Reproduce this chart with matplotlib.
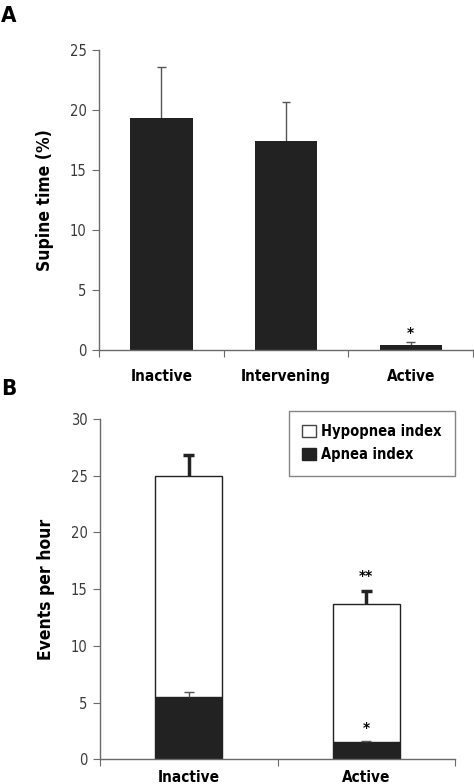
import numpy as np
import matplotlib; matplotlib.use("Agg")
import matplotlib.pyplot as plt
from matplotlib.patches import Patch

plt.rcParams.update({"font.family": ["DejaVu Sans"], "font.stretch": "condensed", "font.size": 10})

# panel A: supine time
cats_a = ["Inactive", "Intervening", "Active"]
supine = [19.3, 17.4, 0.45]
supine_err = [4.3, 3.3, 0.25]
star_a = {2: (1.3, "*")}

# panel B: events per hour (stacked)
cats_b = ["Inactive", "Active"]
apnea = [5.5, 1.5]
apnea_err = [0.4, 0.15]
total = [25.0, 13.7]
total_err = [1.8, 1.1]
stars_b = [(1, 16.0, "**"), (1, 2.6, "*")]

DARK = "#222222"; AX = "#6a6a6a"; TK = "#3a3a3a"
fig = plt.figure(figsize=(4.74, 7.84), dpi=100)

def style(ax, n):
    for s in ("top", "right"): ax.spines[s].set_visible(False)
    for s in ("left", "bottom"): ax.spines[s].set_color(AX); ax.spines[s].set_linewidth(1.0)
    ax.set_xlim(-0.5, n - 0.5)
    ax.set_xticks(np.arange(n + 1) - 0.5); ax.set_xticklabels([])
    ax.tick_params(axis="x", which="major", length=5, direction="out", color=AX)
    ax.tick_params(axis="y", length=5, direction="out", color=AX, labelcolor=TK, labelsize=10.5, pad=4)

def upper_err(ax, x, y, e, half, color, lw, z):
    # one-sided error bar: stem from bar top, cap only at the top
    x = np.asarray(x); y = np.asarray(y); e = np.asarray(e)
    ax.vlines(x, y, y + e, colors=color, lw=lw, zorder=z)
    ax.hlines(y + e, x - half, x + half, colors=color, lw=lw, zorder=z)

# ---- A ----
axa = fig.add_axes([0.209, 0.5536, 0.789, 0.3827])
xa = np.arange(len(cats_a))
axa.bar(xa, supine, width=0.5, color=DARK, zorder=2)
upper_err(axa, xa, supine, supine_err, 0.034, "#555555", 1.0, 1)
style(axa, 3)
axa.set_ylim(0, 25); axa.set_yticks(range(0, 26, 5))
axa.set_xticks(xa, minor=True); axa.set_xticklabels(cats_a, minor=True, fontweight="bold", fontsize=11)
axa.tick_params(axis="x", which="minor", length=0, pad=14)
for i, (y, s) in star_a.items():
    axa.text(i, y, s, ha="center", va="center", fontsize=11, fontweight="bold")
axa.set_ylabel("Supine time (%)", fontweight="bold", fontsize=12.5, labelpad=11)

# ---- B ----
axb = fig.add_axes([0.211, 0.0315, 0.749, 0.434])
xb = np.arange(len(cats_b))
hyp = np.array(total) - np.array(apnea)
axb.bar(xb, apnea, width=0.38, color=DARK, edgecolor=DARK, lw=1, zorder=2)
axb.bar(xb, hyp, bottom=apnea, width=0.38, color="white", edgecolor="#222222", lw=1, zorder=2)
upper_err(axb, xb, total, total_err, 0.03, "#222222", 2.5, 3)
upper_err(axb, xb, apnea, apnea_err, 0.028, "#555555", 1.0, 3)
style(axb, 2)
axb.set_ylim(0, 30); axb.set_yticks(range(0, 31, 5))
axb.set_xticks(xb, minor=True); axb.set_xticklabels(cats_b, minor=True, fontweight="bold", fontsize=11)
axb.tick_params(axis="x", which="minor", length=0, pad=8)
for i, y, s in stars_b:
    axb.text(i, y, s, ha="center", va="center", fontsize=11, fontweight="bold")
axb.set_ylabel("Events per hour", fontweight="bold", fontsize=12.5, labelpad=11)
handles = [Patch(facecolor="white", edgecolor="#444444", lw=1, label="Hypopnea index"),
           Patch(facecolor=DARK, edgecolor=DARK, label="Apnea index")]
leg = axb.legend(handles=handles, loc="upper right", bbox_to_anchor=(1.0, 1.025), fancybox=False,
                 edgecolor="#666666", handlelength=0.9, handleheight=0.9, handletextpad=0.4,
                 borderpad=0.9, labelspacing=0.6, borderaxespad=0,
                 prop={"weight": "bold", "size": 10.5})
leg.get_frame().set_linewidth(1.0)

fig.text(0.002, 0.992, "A", fontsize=16, fontweight="bold", va="top", ha="left")
fig.text(0.002, 0.517, "B", fontsize=16, fontweight="bold", va="top", ha="left")
fig.savefig("out.png", dpi=100)
